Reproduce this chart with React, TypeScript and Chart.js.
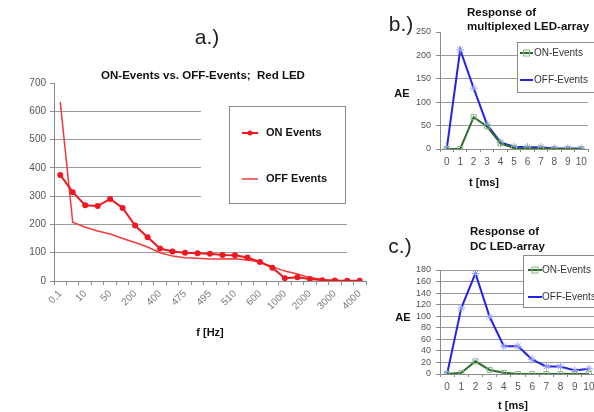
import React, { useEffect, useRef } from "react";
import { Chart, registerables } from "chart.js";

Chart.register(...registerables);

// ---------- data ----------
const freqCategories = [
  "0,1", "1", "10", "20", "50", "100", "200", "300", "400", "450", "475", "485", "495",
  "500", "510", "550", "600", "800", "1000", "1500", "2000", "2500", "3000", "3500", "4000",
];
const onEventsA = [375, 314, 268, 265, 290, 258, 196, 155, 115, 104, 100, 98, 96, 92, 91, 83, 67, 47, 10, 13, 7, 3, 2, 1, 1];
const offEventsA = [633, 208, 190, 177, 166, 150, 136, 120, 100, 88, 82, 80, 78, 78, 79, 74, 67, 50, 35, 25, 12, 5, 2, 1, 1];

const timeCategories = ["0", "1", "2", "3", "4", "5", "6", "7", "8", "9", "10"];
const onEventsB = [0, 0, 68, 48, 12, 2, 1, 1, 0, 0, 0];
const offEventsB = [0, 212, 130, 52, 14, 5, 4, 4, 1, 1, 1];
const onEventsC = [0, 2, 22, 7, 2, 0, 0, 0, 0, 0, 0];
const offEventsC = [0, 114, 174, 99, 48, 48, 25, 13, 13, 6, 9];

const FONT = '"Liberation Sans", Arial, Helvetica, sans-serif';
const RED = "#f01820";
const RED2 = "#f23a3a";
const GREEN = "#2f6b2f";
const GREEN_MARK = "#86b486";
const BLUE = "#2424e8";
const BLUE_MARK = "#93a0ff";
const GRID = "#9a9a9a";
const AXIS = "#8a8a8a";

// ---------- chart a ----------
const legendAPlugin = {
  id: "legendA",
  beforeDatasetsDraw(chart: any) {
    const ctx = chart.ctx;
    const ca = chart.chartArea;
    ctx.save();
    ctx.fillStyle = "#ffffff";
    ctx.fillRect(201, 97, 170, 112);
    ctx.fillRect(347, ca.top - 2, 30, ca.bottom - ca.top + 1);
    ctx.restore();
  },
  afterDraw(chart: any) {
    const ctx = chart.ctx;
    ctx.save();
    ctx.strokeStyle = AXIS;
    ctx.lineWidth = 1;
    ctx.strokeRect(229.5, 106.5, 116, 97);
    ctx.strokeStyle = RED;
    ctx.lineWidth = 2;
    ctx.beginPath();
    ctx.moveTo(242, 133);
    ctx.lineTo(258, 133);
    ctx.stroke();
    ctx.fillStyle = RED;
    ctx.beginPath();
    ctx.arc(250, 133, 2.5, 0, Math.PI * 2);
    ctx.fill();
    ctx.strokeStyle = RED2;
    ctx.lineWidth = 1.5;
    ctx.beginPath();
    ctx.moveTo(242, 179);
    ctx.lineTo(258, 179);
    ctx.stroke();
    ctx.fillStyle = "#111";
    ctx.font = `bold 11px ${FONT}`;
    ctx.textBaseline = "middle";
    ctx.textAlign = "left";
    ctx.fillText(chart.data.datasets[0].label, 266, 133);
    ctx.fillText(chart.data.datasets[1].label, 266, 179);
    ctx.restore();
  },
};

function configA(): any {
  return {
    type: "line",
    data: {
      labels: freqCategories,
      datasets: [
        {
          label: "ON Events",
          data: onEventsA,
          borderColor: RED,
          backgroundColor: RED,
          borderWidth: 2,
          pointRadius: 3,
          pointBorderWidth: 0,
          pointBackgroundColor: RED,
          tension: 0,
        },
        {
          label: "OFF Events",
          data: offEventsA,
          borderColor: RED2,
          borderWidth: 1.5,
          pointRadius: 0,
          tension: 0,
        },
      ],
    },
    options: {
      animation: false,
      responsive: false,
      devicePixelRatio: 1,
      events: [],
      layout: { padding: { left: 0, top: 83, right: 14, bottom: 71 } },
      plugins: { legend: { display: false }, title: { display: false }, tooltip: { enabled: false } },
      scales: {
        x: {
          offset: true,
          grid: { offset: true, drawOnChartArea: false, tickLength: 4, color: AXIS, tickColor: AXIS },
          border: { color: AXIS },
          ticks: {
            autoSkip: false,
            maxRotation: 45,
            minRotation: 45,
            padding: 3,
            color: "#7a7a7a",
            font: { family: FONT, size: 10 },
            callback: (_v: any, i: number) => (i % 2 === 0 ? freqCategories[i] : ""),
          },
          afterFit: (s: any) => {
            s.height = 60;
          },
        },
        y: {
          min: 0,
          max: 700,
          ticks: { stepSize: 100, autoSkip: false, padding: 4, color: "#555", font: { family: FONT, size: 10 } },
          grid: {
            tickLength: 4,
            tickColor: AXIS,
            color: (c: any) => (c.tick && (c.tick.value === 700 || c.tick.value === 0) ? "rgba(0,0,0,0)" : GRID),
          },
          border: { color: AXIS },
          afterFit: (s: any) => {
            s.width = 54;
          },
        },
      },
    },
    plugins: [legendAPlugin],
  };
}

// ---------- charts b & c ----------
function makeSmallLegend(id: string, box: number[], rowY: number[], sample: number[]) {
  return {
    id,
    afterDraw(chart: any) {
      const ctx = chart.ctx;
      const [bx, by, bw, bh] = box;
      ctx.save();
      ctx.fillStyle = "#fff";
      ctx.fillRect(bx, by, bw, bh);
      ctx.strokeStyle = AXIS;
      ctx.lineWidth = 1;
      ctx.strokeRect(bx + 0.5, by + 0.5, bw, bh);
      const [sx0, sx1, tx] = sample;
      const mid = (sx0 + sx1) / 2;
      ctx.strokeStyle = GREEN;
      ctx.lineWidth = 2;
      ctx.beginPath();
      ctx.moveTo(sx0, rowY[0]);
      ctx.lineTo(sx1, rowY[0]);
      ctx.stroke();
      ctx.strokeStyle = GREEN_MARK;
      ctx.lineWidth = 1;
      ctx.strokeRect(mid - 3, rowY[0] - 3, 6, 6);
      ctx.strokeStyle = BLUE;
      ctx.lineWidth = 2;
      ctx.beginPath();
      ctx.moveTo(sx0, rowY[1]);
      ctx.lineTo(sx1, rowY[1]);
      ctx.stroke();
      ctx.fillStyle = "#333";
      ctx.font = `10px ${FONT}`;
      ctx.textBaseline = "middle";
      ctx.textAlign = "left";
      ctx.fillText(chart.data.datasets[0].label, tx, rowY[0]);
      ctx.fillText(chart.data.datasets[1].label, tx, rowY[1]);
      ctx.restore();
    },
  };
}

function configSmall(
  onData: number[],
  offData: number[],
  yMax: number,
  yStep: number,
  padding: any,
  hideTopGrid: boolean,
  legend: any
): any {
  return {
    type: "line",
    data: {
      labels: timeCategories,
      datasets: [
        {
          label: "ON-Events",
          data: onData,
          borderColor: GREEN,
          borderWidth: 2,
          pointStyle: "rect",
          pointRadius: 3.5,
          pointBorderWidth: 1,
          pointBorderColor: GREEN_MARK,
          pointBackgroundColor: "rgba(255,255,255,0)",
          tension: 0,
        },
        {
          label: "OFF-Events",
          data: offData,
          borderColor: BLUE,
          borderWidth: 2,
          pointStyle: "star",
          pointRadius: 4,
          pointBorderWidth: 1,
          pointBorderColor: BLUE_MARK,
          pointBackgroundColor: BLUE_MARK,
          tension: 0,
        },
      ],
    },
    options: {
      animation: false,
      responsive: false,
      devicePixelRatio: 1,
      events: [],
      layout: { padding },
      plugins: { legend: { display: false }, title: { display: false }, tooltip: { enabled: false } },
      scales: {
        x: {
          offset: true,
          grid: { offset: true, drawOnChartArea: false, tickLength: 3, color: AXIS, tickColor: AXIS },
          border: { color: AXIS },
          ticks: { autoSkip: false, maxRotation: 0, padding: 4, color: "#555", font: { family: FONT, size: 10 } },
          afterFit: (s: any) => {
            s.height = 25;
          },
        },
        y: {
          min: 0,
          max: yMax,
          ticks: { stepSize: yStep, autoSkip: false, padding: 5, color: "#555", font: { family: FONT, size: 9 } },
          grid: {
            tickLength: 4,
            tickColor: AXIS,
            color: (c: any) =>
              c.tick && (c.tick.value === 0 || (hideTopGrid && c.tick.value === yMax)) ? "rgba(0,0,0,0)" : GRID,
          },
          border: { color: AXIS },
          afterFit: (s: any) => {
            s.width = 60;
          },
        },
      },
    },
    plugins: [legend],
  };
}

// ---------- text helper ----------
function Label(props: {
  text: string;
  x: number;
  y: number;
  size?: number;
  bold?: boolean;
  align?: "center" | "left";
  rotate?: boolean;
  color?: string;
}) {
  const { text, x, y, size = 11, bold = true, align = "center", rotate = false, color = "#111" } = props;
  const tx = align === "center" ? "-50%" : "0";
  return (
    <div
      style={{
        position: "absolute",
        left: x,
        top: y,
        transform: `translate(${tx}, -50%)${rotate ? " rotate(-90deg)" : ""}`,
        transformOrigin: rotate ? "0 50%" : undefined,
        fontFamily: FONT,
        fontSize: size,
        fontWeight: bold ? "bold" : "normal",
        color,
        whiteSpace: "pre",
        lineHeight: 1,
      }}
    >
      {text}
    </div>
  );
}

export default function App() {
  const aRef = useRef<HTMLCanvasElement>(null);
  const bRef = useRef<HTMLCanvasElement>(null);
  const cRef = useRef<HTMLCanvasElement>(null);

  useEffect(() => {
    const charts: Chart[] = [];
    if (aRef.current) charts.push(new Chart(aRef.current, configA()));
    if (bRef.current)
      charts.push(
        new Chart(
          bRef.current,
          configSmall(
            onEventsB,
            offEventsB,
            250,
            50,
            { left: 0, top: 32, right: 22, bottom: 26 },
            true,
            makeSmallLegend("legendB", [137, 42, 110, 50], [53, 80], [140, 153, 154])
          )
        )
      );
    if (cRef.current)
      charts.push(
        new Chart(
          cRef.current,
          configSmall(
            onEventsC,
            offEventsC,
            180,
            20,
            { left: 0, top: 70, right: 14, bottom: 13 },
            false,
            makeSmallLegend("legendC", [143, 55, 110, 52], [70, 97], [148, 162, 162])
          )
        )
      );
    return () => charts.forEach((c) => c.destroy());
  }, []);

  return (
    <div
      style={{
        position: "absolute",
        left: 0,
        top: 0,
        width: 594,
        height: 412,
        overflow: "hidden",
        background: "#ffffff",
      }}
    >
      <canvas ref={aRef} width={380} height={412} style={{ position: "absolute", left: 0, top: 0 }} />
      <canvas ref={bRef} width={230} height={200} style={{ position: "absolute", left: 380, top: 0 }} />
      <canvas ref={cRef} width={230} height={212} style={{ position: "absolute", left: 380, top: 200 }} />

      <Label text="a.)" x={207} y={36} size={21} bold={false} color="#222" />
      <Label text="ON-Events vs. OFF-Events;  Red LED" x={203} y={76} size={11.5} />
      <Label text="AE / period" x={15} y={182} rotate />
      <Label text="f [Hz]" x={210} y={332} />

      <Label text="b.)" x={401} y={23} size={21} bold={false} color="#222" />
      <Label text="Response of" x={467} y={13} size={11.5} align="left" />
      <Label text="multiplexed LED-array" x={467} y={27} size={11.5} align="left" />
      <Label text="AE" x={402} y={93} />
      <Label text="t [ms]" x={484} y={182} />

      <Label text="c.)" x={400} y={245} size={21} bold={false} color="#222" />
      <Label text="Response of" x={470} y={232} size={11.5} align="left" />
      <Label text="DC LED-array" x={470} y={247} size={11.5} align="left" />
      <Label text="AE" x={403} y={317} />
      <Label text="t [ms]" x={513} y={405} />
    </div>
  );
}
